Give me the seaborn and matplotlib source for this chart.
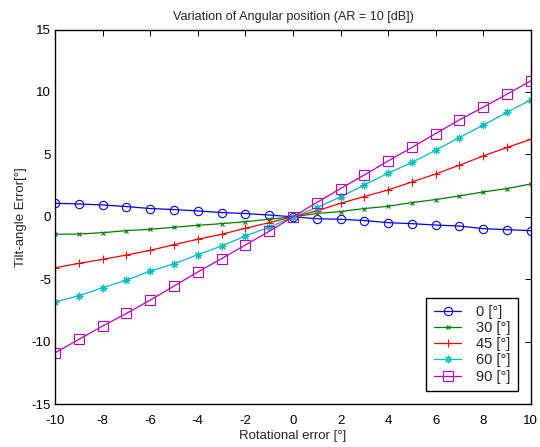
import numpy as np
import pandas as pd
import matplotlib
matplotlib.use('Agg')
import matplotlib.pyplot as plt
import seaborn as sns

# ---------- data ----------
rot_err = list(range(-10, 11))
labels = ['0 [°]', '30 [°]', '45 [°]', '60 [°]', '90 [°]']

err_0 = [1.08, 1.03, 0.95, 0.82, 0.66, 0.58, 0.47, 0.34, 0.26, 0.14, 0.0,
         -0.15, -0.20, -0.30, -0.47, -0.55, -0.66, -0.74, -0.95, -1.03, -1.11]
err_30 = [-1.40, -1.38, -1.27, -1.11, -1.00, -0.84, -0.68, -0.55, -0.39, -0.20, 0.0,
          0.26, 0.42, 0.66, 0.84, 1.14, 1.38, 1.67, 1.99, 2.26, 2.63]
err_45 = [-4.08, -3.73, -3.41, -3.06, -2.69, -2.23, -1.80, -1.40, -0.92, -0.47, 0.0,
          0.47, 1.08, 1.62, 2.15, 2.79, 3.43, 4.13, 4.88, 5.55, 6.21]
err_60 = [-6.83, -6.32, -5.68, -5.07, -4.35, -3.76, -3.03, -2.34, -1.54, -0.84, 0.0,
          0.74, 1.59, 2.55, 3.49, 4.35, 5.33, 6.35, 7.34, 8.36, 9.37]
err_90 = [-10.89, -9.82, -8.75, -7.74, -6.67, -5.55, -4.42, -3.35, -2.26, -1.16, 0.0,
          1.14, 2.26, 3.35, 4.47, 5.55, 6.67, 7.76, 8.78, 9.82, 10.89]

series = [err_0, err_30, err_45, err_60, err_90]
colors = ['#0000ff', '#008000', '#ff0000', '#00bfbf', '#bf00bf']
# matlab style markers: circle, x, plus, asterisk, square
markers = ['o', 'x', '+', (8, 2, 0), 's']
msizes = [6, 3.5, 6, 5.5, 6.5]

# ---------- style ----------
sns.set_style('white')
plt.rcParams['font.family'] = ['Liberation Sans', 'DejaVu Sans']
plt.rcParams['axes.unicode_minus'] = False

fig = plt.figure(figsize=(5.4, 4.47), dpi=100)
ax = fig.add_axes([0.102, 0.096, 0.881, 0.838])

for s, lab, c, m, ms in zip(series, labels, colors, markers, msizes):
    sns.lineplot(x=rot_err, y=s, color=c, marker=m, markersize=ms,
                 markeredgecolor=c, markerfacecolor='none', markeredgewidth=0.8,
                 linewidth=0.9, label=lab, ax=ax)

ax.set_xlim(-10, 10)
ax.set_ylim(-15, 15)
ax.set_xticks(range(-10, 11, 2))
ax.set_yticks(range(-15, 16, 5))
ax.tick_params(direction='in', length=4, width=0.7, top=True, right=True,
               labelsize=9.5, colors='black')
ax.tick_params(axis='x', pad=8)
ax.tick_params(axis='y', pad=3)
for sp in ax.spines.values():
    sp.set_color('black')
    sp.set_linewidth(1.0)

ax.set_title('Variation of Angular position (AR = 10 [dB])', fontsize=9.1, pad=7)
ax.set_xlabel('Rotational error [°]', fontsize=9.5, labelpad=2)
ax.set_ylabel('Tilt-angle Error[°]', fontsize=9.5, labelpad=3)

leg = ax.legend(loc='lower right', fontsize=10.5,
                fancybox=False, framealpha=1, edgecolor='black',
                borderaxespad=0.9, handlelength=1.9, labelspacing=0.15,
                borderpad=0.5, handletextpad=1.0)
leg.get_frame().set_linewidth(1.0)

fig.savefig('out.png', dpi=100)
